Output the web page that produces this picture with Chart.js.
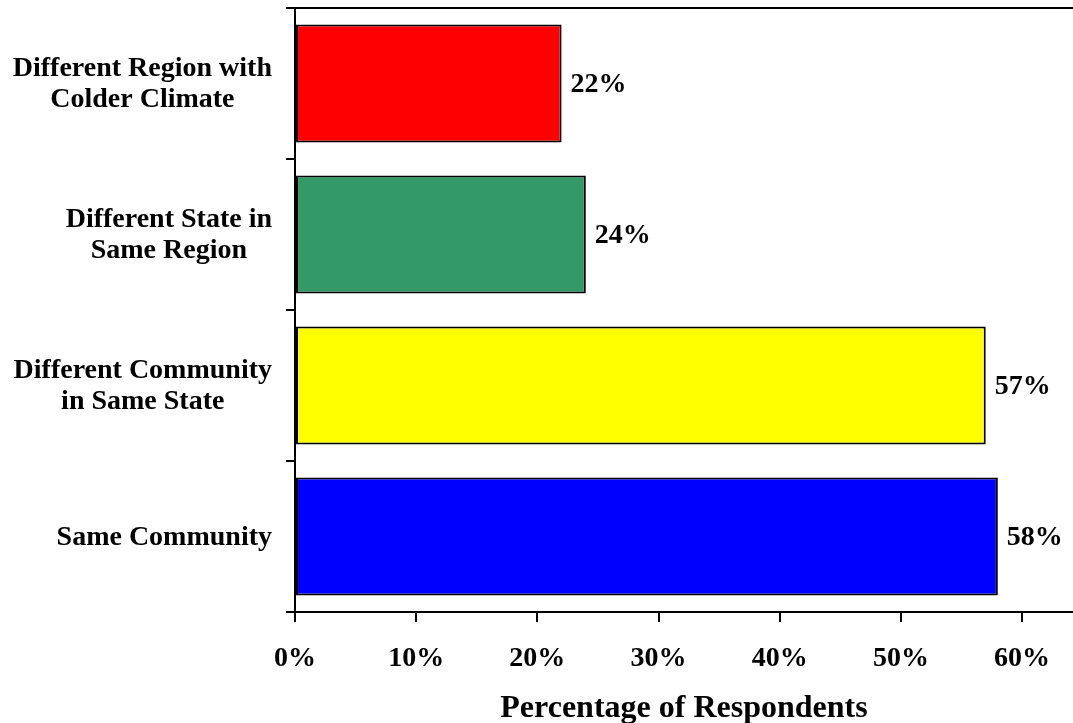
<!DOCTYPE html>
<html>
<head>
<meta charset="utf-8">
<script src="https://cdn.jsdelivr.net/npm/chart.js@4.4.1/dist/chart.umd.min.js"></script>
<style>
  html, body { margin: 0; padding: 0; background: #ffffff; }
  #wrap { width: 1073px; height: 723px; }
</style>
</head>
<body>
<div id="wrap"><canvas id="c" width="1073" height="723"></canvas></div>
<script>
// Survey answers: where respondents would prefer to live
const categories = [
  ['Different Region with', 'Colder Climate'],
  ['Different State in', 'Same Region'],
  ['Different Community', 'in Same State'],
  ['Same Community']
];
const percentValues = [22, 24, 57, 58];
const barColors = ['#ff0000', '#339966', '#ffff00', '#0000ff'];
const xTickValues = [0, 10, 20, 30, 40, 50, 60];
const xAxisTitle = 'Percentage of Respondents';

const FONT_FAMILY = '"Liberation Serif", "Times New Roman", serif';

// Category labels: each block centred on its own lines, right edge near the axis
const categoryLabels = {
  id: 'categoryLabels',
  afterDraw(chart) {
    const ctx = chart.ctx;
    const y = chart.scales.y;
    const rightEdge = 272;
    const lineH = 31;
    ctx.save();
    ctx.font = 'bold 28px ' + FONT_FAMILY;
    ctx.fillStyle = '#000';
    ctx.textAlign = 'center';
    ctx.textBaseline = 'middle';
    categories.forEach((lines, i) => {
      const cy = y.getPixelForValue(i) + 1;
      const w = Math.max(...lines.map(l => ctx.measureText(l).width));
      const cx = rightEdge - w / 2;
      const start = cy - (lines.length - 1) * lineH / 2;
      lines.forEach((l, k) => ctx.fillText(l, cx, start + k * lineH));
    });
    ctx.restore();
  }
};

// Percentage labels to the right of each bar
const valueLabels = {
  id: 'valueLabels',
  afterDatasetsDraw(chart) {
    const ctx = chart.ctx;
    const meta = chart.getDatasetMeta(0);
    ctx.save();
    ctx.font = 'bold 28px ' + FONT_FAMILY;
    ctx.fillStyle = '#000';
    ctx.textAlign = 'left';
    ctx.textBaseline = 'middle';
    meta.data.forEach((bar, i) => {
      ctx.fillText(percentValues[i] + '%', bar.x + 9, bar.y + 1);
    });
    ctx.restore();
  }
};

// Frame line along the top of the plot
const topFrame = {
  id: 'topFrame',
  afterDraw(chart) {
    const a = chart.chartArea;
    const ctx = chart.ctx;
    ctx.save();
    ctx.strokeStyle = '#000';
    ctx.lineWidth = 2;
    ctx.beginPath();
    ctx.moveTo(a.left - 9, a.top);
    ctx.lineTo(a.right, a.top);
    ctx.stroke();
    ctx.restore();
  }
};

new Chart(document.getElementById('c'), {
  type: 'bar',
  data: {
    labels: categories,
    datasets: [{
      data: percentValues,
      backgroundColor: barColors,
      borderColor: '#000',
      borderWidth: 2,
      borderSkipped: false,
      categoryPercentage: 1,
      barPercentage: 0.781
    }]
  },
  options: {
    indexAxis: 'y',
    responsive: false,
    animation: false,
    devicePixelRatio: 1,
    layout: { padding: { top: 8, right: 0, left: 0, bottom: 0 } },
    plugins: {
      legend: { display: false },
      tooltip: { enabled: false }
    },
    scales: {
      x: {
        type: 'linear',
        min: 0,
        max: 64.2,
        afterBuildTicks(scale) {
          scale.ticks = xTickValues.map(v => ({ value: v }));
        },
        afterFit(scale) { scale.height = 111; },
        ticks: {
          color: '#000',
          padding: 20,
          maxRotation: 0,
          autoSkip: false,
          font: { family: FONT_FAMILY, size: 28, weight: 'bold' },
          callback: v => v + '%'
        },
        grid: {
          drawOnChartArea: false,
          drawTicks: true,
          tickLength: 10,
          color: '#000',
          lineWidth: 2
        },
        border: { display: true, color: '#000', width: 2 },
        title: {
          display: true,
          text: xAxisTitle,
          color: '#000',
          font: { family: FONT_FAMILY, size: 32, weight: 'bold', lineHeight: 1 },
          padding: { top: 0, bottom: -2 }
        }
      },
      y: {
        type: 'category',
        offset: true,
        afterFit(scale) { scale.width = 295; },
        ticks: { display: false },
        grid: {
          offset: true,
          drawOnChartArea: false,
          drawTicks: true,
          tickLength: 9,
          color: '#000',
          lineWidth: 2
        },
        border: { display: true, color: '#000', width: 2 }
      }
    }
  },
  plugins: [categoryLabels, valueLabels, topFrame]
});
</script>
</body>
</html>
